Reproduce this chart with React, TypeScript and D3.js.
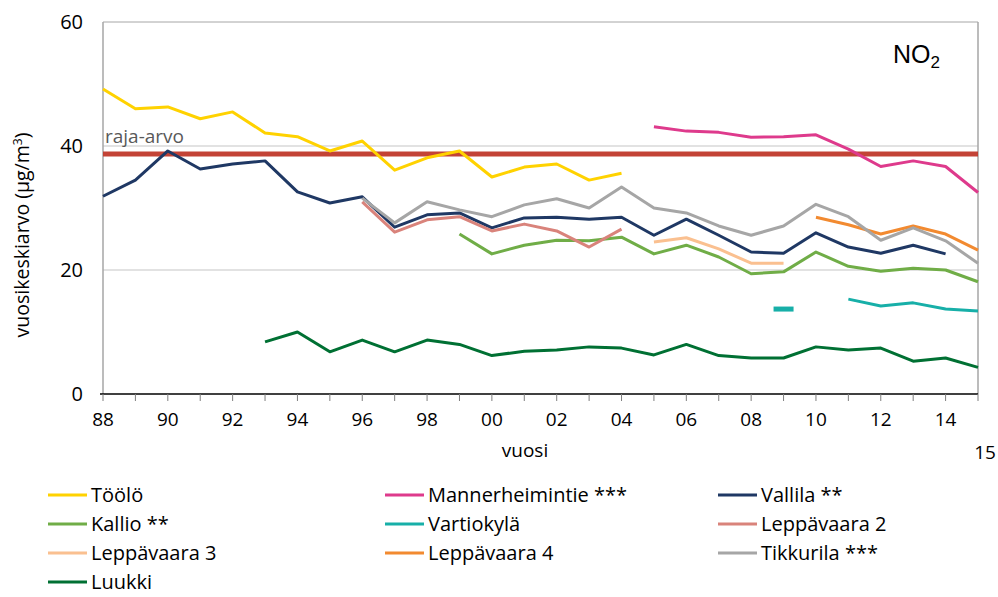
import * as d3 from 'd3';

const _ = null;

const years = [
  1988, 1989, 1990, 1991, 1992, 1993, 1994, 1995, 1996, 1997, 1998, 1999, 2000, 2001,
  2002, 2003, 2004, 2005, 2006, 2007, 2008, 2009, 2010, 2011, 2012, 2013, 2014, 2015,
];

// annual means, µg/m3 (null = no data)
const toolo = [49.2, 46.0, 46.3, 44.4, 45.5, 42.1, 41.5, 39.2, 40.8, 36.1, 38.1, 39.2, 35.0, 36.6, 37.1, 34.5, 35.6, _, _, _, _, _, _, _, _, _, _, _];
const mannerheimintie = [_, _, _, _, _, _, _, _, _, _, _, _, _, _, _, _, _, 43.1, 42.4, 42.2, 41.4, 41.5, 41.8, 39.5, 36.7, 37.6, 36.7, 32.5];
const vallila = [31.9, 34.5, 39.2, 36.3, 37.1, 37.6, 32.6, 30.8, 31.8, 26.9, 28.9, 29.2, 26.8, 28.4, 28.5, 28.2, 28.5, 25.6, 28.2, 25.6, 22.9, 22.7, 26.0, 23.7, 22.7, 24.0, 22.6, _];
const kallio = [_, _, _, _, _, _, _, _, _, _, _, 25.8, 22.6, 24.0, 24.8, 24.7, 25.3, 22.6, 24.0, 22.1, 19.4, 19.7, 22.9, 20.6, 19.8, 20.3, 20.0, 18.1];
const vartiokyla = [_, _, _, _, _, _, _, _, _, _, _, _, _, _, _, _, _, _, _, _, _, 13.7, _, 15.3, 14.2, 14.7, 13.7, 13.4];
const leppavaara2 = [_, _, _, _, _, _, _, _, 31.0, 26.1, 28.1, 28.6, 26.3, 27.4, 26.3, 23.7, 26.6, _, _, _, _, _, _, _, _, _, _, _];
const leppavaara3 = [_, _, _, _, _, _, _, _, _, _, _, _, _, _, _, _, _, 24.5, 25.2, 23.4, 21.1, 21.1, _, _, _, _, _, _];
const leppavaara4 = [_, _, _, _, _, _, _, _, _, _, _, _, _, _, _, _, _, _, _, _, _, _, 28.5, 27.3, 25.8, 27.1, 25.8, 23.2];
const tikkurila = [_, _, _, _, _, _, _, _, 31.6, 27.6, 31.0, 29.7, 28.6, 30.5, 31.5, 30.0, 33.4, 30.0, 29.2, 27.1, 25.6, 27.1, 30.6, 28.6, 24.8, 26.8, 24.7, 21.1];
const luukki = [_, _, _, _, _, 8.4, 10.0, 6.8, 8.7, 6.8, 8.7, 8.0, 6.2, 6.9, 7.1, 7.6, 7.4, 6.3, 8.0, 6.2, 5.8, 5.8, 7.6, 7.1, 7.4, 5.3, 5.8, 4.3];

const seriesNames = [
  'Töölö', 'Mannerheimintie ***', 'Vallila **',
  'Kallio **', 'Vartiokylä', 'Leppävaara 2',
  'Leppävaara 3', 'Leppävaara 4', 'Tikkurila ***',
  'Luukki',
];
const seriesValues = [toolo, mannerheimintie, vallila, kallio, vartiokyla, leppavaara2, leppavaara3, leppavaara4, tikkurila, luukki];
const seriesColors = ['#FFD200', '#DE3A8C', '#1F3864', '#70AD47', '#17AFA8', '#D9837B', '#FAC090', '#F28A30', '#A6A6A6', '#007033'];

const yTicks = [0, 20, 40, 60];
const xTickYears = [1988, 1990, 1992, 1994, 1996, 1998, 2000, 2002, 2004, 2006, 2008, 2010, 2012, 2014];
const limitValue = 38.7;

const W = 998;
const H = 597;
const m = { left: 103, right: 20, top: 22, bottom: 203 };
const font = '"Open Sans", "DejaVu Sans", sans-serif';

export default function App() {
  const x = d3.scaleLinear().domain([1988, 2015]).range([m.left, W - m.right]);
  const y = d3.scaleLinear().domain([0, 60]).range([H - m.bottom, m.top]);
  const line = d3
    .line<number | null>()
    .defined((d) => d !== null)
    .x((_d, i) => x(years[i]))
    .y((d) => y(d as number));

  const x0 = x.range()[0];
  const x1 = x.range()[1];
  const yb = y(0);

  // single points with no neighbours are drawn as a short dash
  const isolated = (vals: (number | null)[]) =>
    vals
      .map((v, i) => ({ v, i }))
      .filter(({ v, i }) => v !== null && (vals[i - 1] ?? null) === null && (vals[i + 1] ?? null) === null);

  const legendCols = [48, 385, 718];
  const legendRows = [495, 524, 553, 582];

  return (
    <div style={{ position: 'absolute', left: 0, top: 0 }}>
      <svg width={W} height={H} style={{ display: 'block', background: '#fff' }}>
        {/* grid */}
        {yTicks.slice(1, -1).map((t) => (
          <line key={t} x1={x0} x2={x1} y1={y(t)} y2={y(t)} stroke="#D9D9D9" strokeWidth={1.5} />
        ))}
        <line x1={x0} x2={x1} y1={y(60)} y2={y(60)} stroke="#A6A6A6" strokeWidth={1} />
        <line x1={x1} x2={x1} y1={y(60)} y2={yb} stroke="#A6A6A6" strokeWidth={1.5} />
        <line x1={x0} x2={x0} y1={y(60)} y2={yb} stroke="#A6A6A6" strokeWidth={1.5} />

        {/* limit value */}
        <line x1={x0} x2={x1} y1={y(limitValue)} y2={y(limitValue)} stroke="#C0392B" strokeWidth={5} strokeOpacity={0.95} />
        <text x={x0 + 2} y={y(limitValue) - 11} fontFamily={font} fontSize={19} fill="#595959">
          raja-arvo
        </text>

        {/* series */}
        {seriesValues.map((vals, s) => (
          <g key={seriesNames[s]}>
            <path d={line(vals) ?? ''} fill="none" stroke={seriesColors[s]} strokeWidth={3} strokeLinejoin="round" />
            {isolated(vals).map(({ v, i }) => (
              <rect
                key={i}
                x={x(years[i]) - 10}
                y={y(v as number) - 2.5}
                width={20}
                height={5}
                fill={seriesColors[s]}
              />
            ))}
          </g>
        ))}

        {/* x axis */}
        <line x1={x0 - 3} x2={x1} y1={yb} y2={yb} stroke="#000" strokeWidth={1.5} />
        {years.map((yr) => (
          <line key={yr} x1={x(yr)} x2={x(yr)} y1={yb} y2={yb + 7} stroke="#7F7F7F" strokeWidth={1} />
        ))}
        {xTickYears.map((yr) => (
          <text key={yr} x={x(yr)} y={yb + 32} textAnchor="middle" fontFamily={font} fontSize={19} fill="#000">
            {String(yr).slice(2)}
          </text>
        ))}
        <text x={x(2015) + 7} y={yb + 65} textAnchor="middle" fontFamily={font} fontSize={19} fill="#000">
          15
        </text>
        <text x={525} y={yb + 63} textAnchor="middle" fontFamily={font} fontSize={19} fill="#000">
          vuosi
        </text>

        {/* y axis */}
        {yTicks.map((t) => (
          <text key={t} x={x0 - 20} y={y(t) + 7} textAnchor="end" fontFamily={font} fontSize={20} fill="#000">
            {t}
          </text>
        ))}
        <text
          transform={`translate(29, ${(y(0) + y(60)) / 2 + 27}) rotate(-90)`}
          textAnchor="middle"
          fontFamily={font}
          fontSize={19.5}
          fill="#000"
        >
          vuosikeskiarvo (µg/m<tspan dy={-7} fontSize={12}>3</tspan>
          <tspan dy={7}>)</tspan>
        </text>

        {/* pollutant label */}
        <text x={893} y={63} fontFamily='"Liberation Sans", Arial, sans-serif' fontSize={25} fill="#000">
          NO<tspan dy={5} fontSize={17}>2</tspan>
        </text>

        {/* legend */}
        {seriesNames.map((name, i) => {
          const lx = legendCols[i % 3];
          const ly = legendRows[Math.floor(i / 3)];
          return (
            <g key={name}>
              <line x1={lx} x2={lx + 39} y1={ly} y2={ly} stroke={seriesColors[i]} strokeWidth={3} />
              <text x={lx + 43} y={ly + 7} fontFamily={font} fontSize={20} fill="#000">
                {name}
              </text>
            </g>
          );
        })}
      </svg>
    </div>
  );
}
